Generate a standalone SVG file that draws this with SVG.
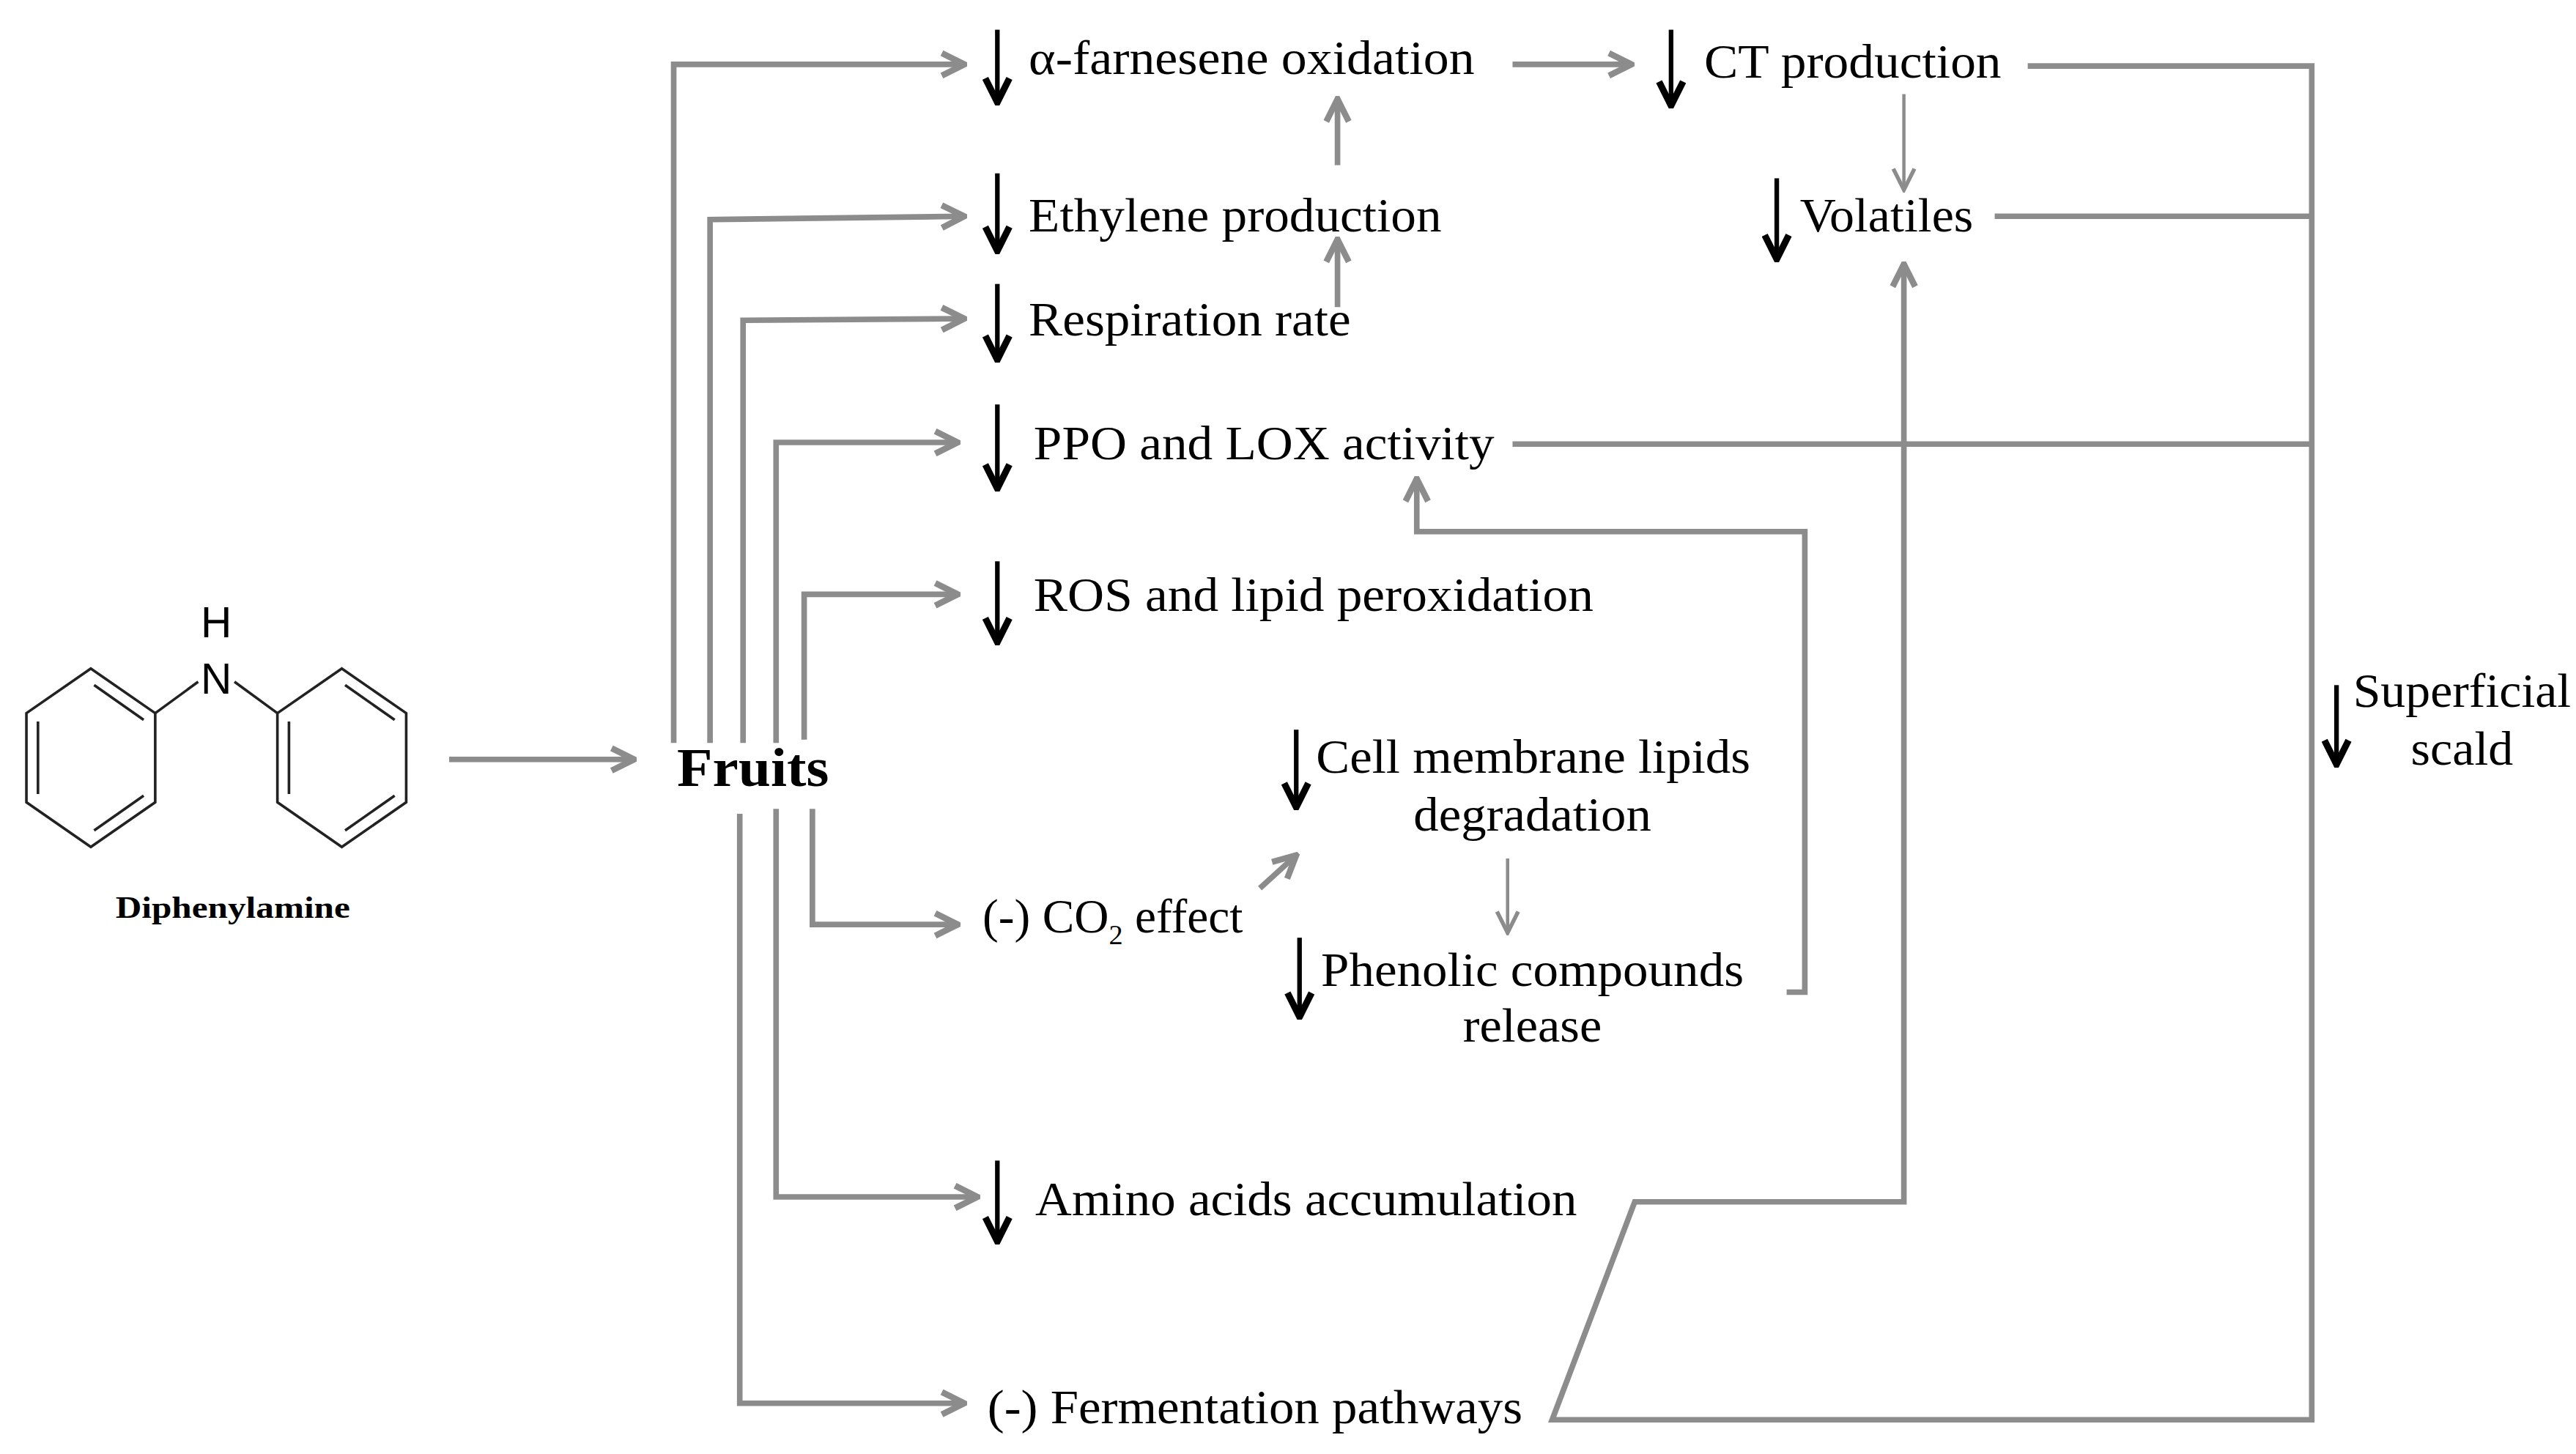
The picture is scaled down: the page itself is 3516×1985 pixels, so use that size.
<svg xmlns="http://www.w3.org/2000/svg" width="3516" height="1985" viewBox="0 0 3516 1985">
<defs>
<marker id="ga" viewBox="0 0 10 10" refX="9" refY="5" markerWidth="5" markerHeight="5" orient="auto" markerUnits="strokeWidth"><path d="M1,1 L9,5 L1,9" fill="none" stroke="#8c8c8c" stroke-width="2.2"/></marker>
<marker id="gt" viewBox="0 0 10 10" refX="9" refY="5" markerWidth="8" markerHeight="8" orient="auto" markerUnits="strokeWidth"><path d="M1,1 L9,5 L1,9" fill="none" stroke="#8c8c8c" stroke-width="1.5"/></marker>
<marker id="ba" viewBox="0 0 10 10" refX="9" refY="5" markerWidth="6.5" markerHeight="6.5" orient="auto" markerUnits="strokeWidth"><path d="M1,1 L9,5 L1,9" fill="none" stroke="#000" stroke-width="2.2"/></marker>
</defs>
<style>
.t{font-family:"Liberation Serif","Times New Roman",serif;font-size:29px;fill:#000}
.g{fill:none;stroke:#8c8c8c;stroke-width:3.4}
.gt{fill:none;stroke:#8c8c8c;stroke-width:2}
.b{fill:none;stroke:#000;stroke-width:2.8;marker-end:url(#ba)}
.m{fill:none;stroke:#222;stroke-width:1.6}
</style>
<rect width="3516" height="1985" fill="#fff"/>
<g transform="scale(2.2538)">
<g id="diphenylamine">
<path class="m" d="M55,405 L94,432 L94,486 L55,513 L16,486 L16,432 Z"/>
<path class="m" d="M57,415 L87,436 M87,482 L57,503 M23,437 L23,481"/>
<path class="m" d="M207,405 L246,432 L246,486 L207,513 L168,486 L168,432 Z"/>
<path class="m" d="M209,415 L239,436 M239,482 L209,503 M175,437 L175,481"/>
<path class="m" d="M94,432 L120,413 M142,413 L168,432"/>
<text x="131" y="420" text-anchor="middle" style="font-family:'Liberation Sans',Arial,sans-serif;font-size:26px">N</text>
<text x="131" y="386" text-anchor="middle" style="font-family:'Liberation Sans',Arial,sans-serif;font-size:26px">H</text>
<text class="t" x="70" y="556" textLength="142" lengthAdjust="spacingAndGlyphs" style="font-size:19px;font-weight:bold">Diphenylamine</text>
</g>
<g id="fruits"><text class="t" x="410" y="476" textLength="92" lengthAdjust="spacingAndGlyphs" style="font-size:33px;font-weight:bold">Fruits</text></g>
<g id="farnesene"><path class="b" d="M604,18 L604,62"/><text class="t" x="623" y="45" textLength="270" lengthAdjust="spacingAndGlyphs">α-farnesene oxidation</text></g>
<g id="ct"><path class="b" d="M1012,18 L1012,64"/><text class="t" x="1032" y="47" textLength="180" lengthAdjust="spacingAndGlyphs">CT production</text></g>
<g id="ethylene"><path class="b" d="M604,105 L604,152"/><text class="t" x="623" y="140" textLength="250" lengthAdjust="spacingAndGlyphs">Ethylene production</text></g>
<g id="volatiles"><path class="b" d="M1076,108 L1076,157"/><text class="t" x="1090" y="140" textLength="105" lengthAdjust="spacingAndGlyphs">Volatiles</text></g>
<g id="respiration"><path class="b" d="M604,172 L604,218"/><text class="t" x="623" y="203" textLength="195" lengthAdjust="spacingAndGlyphs">Respiration rate</text></g>
<g id="ppo"><path class="b" d="M604,245 L604,296"/><text class="t" x="626" y="278" textLength="279" lengthAdjust="spacingAndGlyphs">PPO and LOX activity</text></g>
<g id="ros"><path class="b" d="M604,340 L604,389"/><text class="t" x="626" y="370" textLength="339" lengthAdjust="spacingAndGlyphs">ROS and lipid peroxidation</text></g>
<g id="cellmembrane"><path class="b" d="M785,442 L785,489"/><text class="t" x="797" y="468" textLength="263" lengthAdjust="spacingAndGlyphs">Cell membrane lipids</text><text class="t" x="856" y="503" textLength="144" lengthAdjust="spacingAndGlyphs">degradation</text></g>
<g id="co2"><text class="t" x="595" y="565">(-) CO<tspan dy="7" style="font-size:17px">2</tspan><tspan dy="-7"> effect</tspan></text></g>
<g id="phenolic"><path class="b" d="M787,568 L787,616"/><text class="t" x="800" y="597" textLength="256" lengthAdjust="spacingAndGlyphs">Phenolic compounds</text><text class="t" x="886" y="631" textLength="84" lengthAdjust="spacingAndGlyphs">release</text></g>
<g id="amino"><path class="b" d="M604,703 L604,752"/><text class="t" x="627" y="736" textLength="328" lengthAdjust="spacingAndGlyphs">Amino acids accumulation</text></g>
<g id="fermentation"><text class="t" x="598" y="862" textLength="324" lengthAdjust="spacingAndGlyphs">(-) Fermentation pathways</text></g>
<g id="scald"><path class="b" d="M1415,415 L1415,463"/><text class="t" x="1425" y="428" textLength="132" lengthAdjust="spacingAndGlyphs">Superficial</text><text class="t" x="1460" y="463" textLength="62" lengthAdjust="spacingAndGlyphs">scald</text></g>
<g id="connectors">
<path class="g" d="M272,460 L384,460" marker-end="url(#ga)"/>
<path class="g" d="M408,450 L408,39 L584,39" marker-end="url(#ga)"/>
<path class="g" d="M430,450 L430,133 L584,131" marker-end="url(#ga)"/>
<path class="g" d="M450,450 L450,194 L584,193" marker-end="url(#ga)"/>
<path class="g" d="M470,450 L470,268 L580,268" marker-end="url(#ga)"/>
<path class="g" d="M487,448 L487,360 L580,360" marker-end="url(#ga)"/>
<path class="g" d="M492,490 L492,560 L580,560" marker-end="url(#ga)"/>
<path class="g" d="M470,490 L470,725 L592,725" marker-end="url(#ga)"/>
<path class="g" d="M448,493 L448,850 L584,850" marker-end="url(#ga)"/>
<path class="g" d="M916,39 L988,39" marker-end="url(#ga)"/>
<path class="g" d="M810,100 L810,60" marker-end="url(#ga)"/>
<path class="g" d="M810,186 L810,145" marker-end="url(#ga)"/>
<path class="gt" d="M1153,57 L1153,115" marker-end="url(#gt)"/>
<path class="g" d="M1228,40 L1400,40 L1400,860 L940,860 L990,728 L1153,728 L1153,160" marker-end="url(#ga)"/>
<path class="g" d="M1208,131 L1400,131"/>
<path class="g" d="M916,269 L1400,269"/>
<path class="g" d="M1082,601 L1093,601 L1093,322 L858,322 L858,290" marker-end="url(#ga)"/>
<path class="g" d="M763,538 L785,518" marker-end="url(#ga)"/>
<path class="gt" d="M913,520 L913,565" marker-end="url(#gt)"/>
</g>
</g>
</svg>
